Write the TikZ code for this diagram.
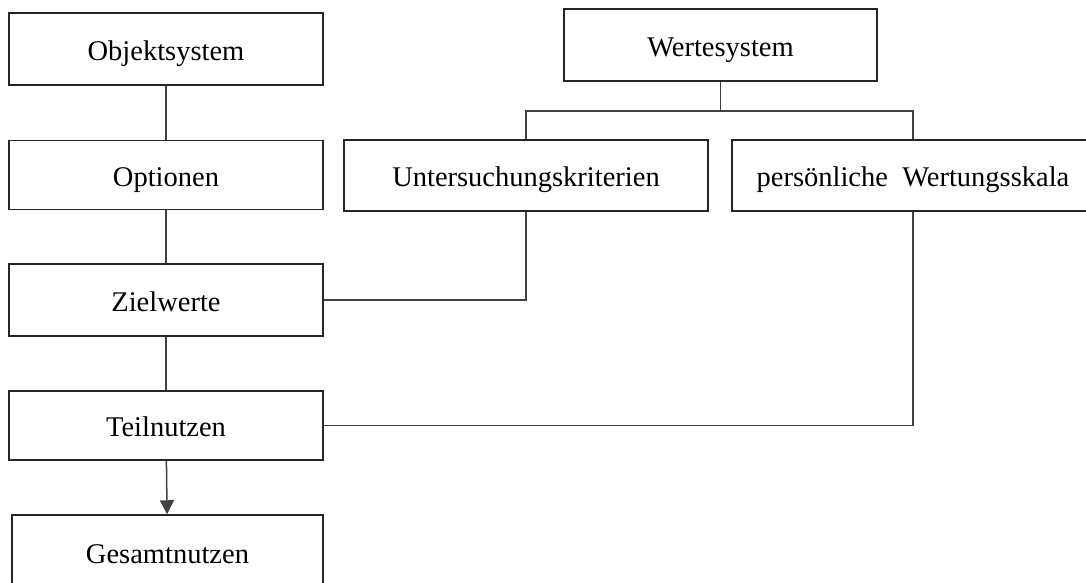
\documentclass[tikz,border=0pt]{standalone}
\usepackage{fontspec}
\setmainfont{Liberation Serif}
\usetikzlibrary{arrows.meta}
\tikzset{
  box/.style={draw=black!85, line width=1.5pt, fill=white, inner sep=0pt,
    text height=25pt, text depth=3pt,
    font=\fontsize{28.5}{32}\selectfont},
  link/.style={draw=black!75, line width=1.5pt}
}
\begin{document}
\begin{tikzpicture}[x=1pt,y=-1pt]
  \useasboundingbox (0,0) rectangle (1086,582);
  \begin{scope}
    \clip (0,0) rectangle (1086,582);
    % left column
    \node[box, minimum width=314, minimum height=72] (obj) at (166,49) {Objektsystem};
    \node[box, minimum width=314, minimum height=69] (opt) at (166,175) {Optionen};
    \node[box, minimum width=314, minimum height=72] (ziel) at (166,300) {Zielwerte};
    \node[box, minimum width=314, minimum height=69] (teil) at (166,425.5) {Teilnutzen};
    \node[box, minimum width=311, minimum height=74] (ges) at (167.5,552) {Gesamtnutzen};
    % value system
    \node[box, minimum width=313, minimum height=72] (wert) at (720.5,45) {Wertesystem};
    \node[box, minimum width=364, minimum height=71] (krit) at (526,175.5) {Untersuchungskriterien};
    \node[box, minimum width=362, minimum height=71] (skala) at (913,175.5) {persönliche\ \ Wertungsskala};
    \coordinate (fork) at (720.5,111);
    % connectors
    \draw[link] (obj) -- (opt);
    \draw[link] (opt) -- (ziel);
    \draw[link] (ziel) -- (teil);
    \draw[link, -{Triangle[width=14pt,length=14pt]}] (teil) -- (ges);
    \draw[link] (wert) -- (fork);
    \draw[link] (fork) -| (krit.north);
    \draw[link] (fork) -| (skala.north);
    \draw[link] (krit.south) |- (ziel.east);
    \draw[link] (skala.south) |- (teil.east);
  \end{scope}
\end{tikzpicture}
\end{document}
